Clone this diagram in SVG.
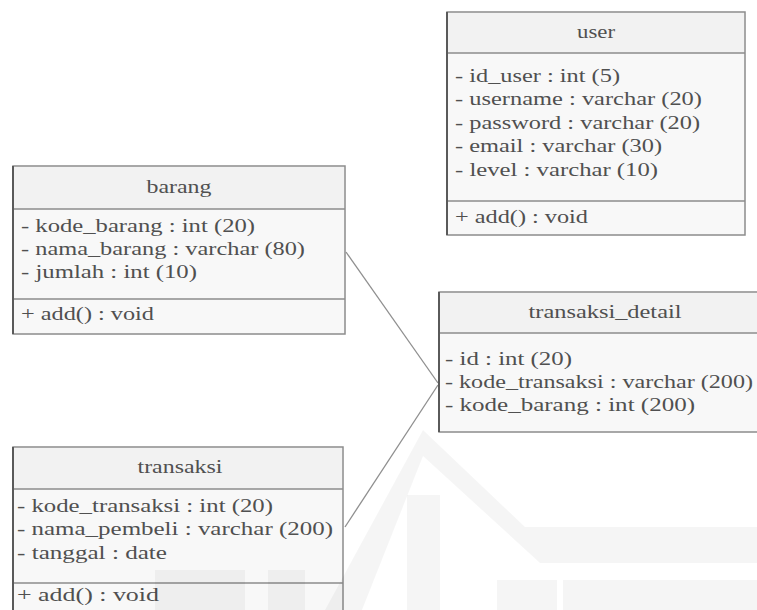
<svg xmlns="http://www.w3.org/2000/svg" width="757" height="610" viewBox="0 0 757 610">
<style>
.box{fill:#f8f8f8;stroke:#8c8c8c;stroke-width:1.5}
.hdr{fill:#f2f2f2}
.div{stroke:#8c8c8c;stroke-width:1.5}
.edge{stroke:#5a5a5a;stroke-width:2}
.t{font-family:"Liberation Serif","Times New Roman",serif;font-size:18px;fill:#505050}
.c{text-anchor:middle}
.conn{stroke:#8f8f8f;stroke-width:1.3;fill:none}
.wm{fill:#000;fill-opacity:0.04}
</style>
<rect width="757" height="610" fill="#ffffff"/>

<g id="connectors">
<line class="conn" x1="346" y1="252" x2="438" y2="383"/>
<line class="conn" x1="345" y1="527" x2="438" y2="385"/>
</g>

<g id="user">
<rect class="box" x="447" y="12" width="298" height="223"/>
<rect class="hdr" x="448" y="13" width="296" height="40"/>
<line class="div" x1="447" y1="53" x2="745" y2="53"/>
<line class="div" x1="447" y1="201" x2="745" y2="201"/>
<line class="edge" x1="447" y1="12" x2="447" y2="235"/>
<text class="t c" x="596" y="38" textLength="38" lengthAdjust="spacingAndGlyphs">user</text>
<text class="t" x="455" y="82" textLength="165" lengthAdjust="spacingAndGlyphs">- id_user : int (5)</text>
<text class="t" x="455" y="105" textLength="247" lengthAdjust="spacingAndGlyphs">- username : varchar (20)</text>
<text class="t" x="455" y="129" textLength="245" lengthAdjust="spacingAndGlyphs">- password : varchar (20)</text>
<text class="t" x="455" y="152" textLength="207" lengthAdjust="spacingAndGlyphs">- email : varchar (30)</text>
<text class="t" x="455" y="176" textLength="203" lengthAdjust="spacingAndGlyphs">- level : varchar (10)</text>
<text class="t" x="455" y="223" textLength="133" lengthAdjust="spacingAndGlyphs">+ add() : void</text>
</g>

<g id="barang">
<rect class="box" x="13" y="166" width="332" height="168"/>
<rect class="hdr" x="14" y="167" width="330" height="42"/>
<line class="div" x1="13" y1="209" x2="345" y2="209"/>
<line class="div" x1="13" y1="299" x2="345" y2="299"/>
<line class="edge" x1="13" y1="166" x2="13" y2="334"/>
<text class="t c" x="179" y="193" textLength="65" lengthAdjust="spacingAndGlyphs">barang</text>
<text class="t" x="21" y="232" textLength="234" lengthAdjust="spacingAndGlyphs">- kode_barang : int (20)</text>
<text class="t" x="21" y="255" textLength="284" lengthAdjust="spacingAndGlyphs">- nama_barang : varchar (80)</text>
<text class="t" x="21" y="278" textLength="176" lengthAdjust="spacingAndGlyphs">- jumlah : int (10)</text>
<text class="t" x="21" y="320" textLength="133" lengthAdjust="spacingAndGlyphs">+ add() : void</text>
</g>

<g id="transaksi">
<rect class="box" x="13" y="447" width="330" height="200"/>
<rect class="hdr" x="14" y="448" width="328" height="41"/>
<line class="div" x1="13" y1="489" x2="343" y2="489"/>
<line class="div" x1="13" y1="583" x2="343" y2="583"/>
<line class="edge" x1="13" y1="447" x2="13" y2="610"/>
<text class="t c" x="180" y="473" textLength="85" lengthAdjust="spacingAndGlyphs">transaksi</text>
<text class="t" x="17" y="512" textLength="256" lengthAdjust="spacingAndGlyphs">- kode_transaksi : int (20)</text>
<text class="t" x="17" y="535" textLength="316" lengthAdjust="spacingAndGlyphs">- nama_pembeli : varchar (200)</text>
<text class="t" x="17" y="559" textLength="150" lengthAdjust="spacingAndGlyphs">- tanggal : date</text>
<text class="t" x="17" y="601" textLength="142" lengthAdjust="spacingAndGlyphs">+ add() : void</text>
</g>

<g id="transaksi_detail">
<rect class="box" x="439" y="292" width="330" height="140"/>
<rect class="hdr" x="440" y="293" width="328" height="40"/>
<line class="div" x1="439" y1="333" x2="769" y2="333"/>
<line class="edge" x1="439" y1="292" x2="439" y2="432"/>
<text class="t c" x="605" y="318" textLength="153" lengthAdjust="spacingAndGlyphs">transaksi_detail</text>
<text class="t" x="445" y="365" textLength="127" lengthAdjust="spacingAndGlyphs">- id : int (20)</text>
<text class="t" x="445" y="388" textLength="308" lengthAdjust="spacingAndGlyphs">- kode_transaksi : varchar (200)</text>
<text class="t" x="445" y="411" textLength="250" lengthAdjust="spacingAndGlyphs">- kode_barang : int (200)</text>
</g>

<g id="watermark">
<polygon class="wm" points="325,610 423,430 525,527 757,527 757,563 540,563 423,456 362,610"/>
<rect class="wm" x="407" y="495" width="33" height="115"/>
<rect class="wm" x="497" y="580" width="60" height="30"/>
<rect class="wm" x="563" y="580" width="194" height="30"/>
<rect class="wm" x="155" y="570" width="90" height="40"/>
<rect class="wm" x="268" y="570" width="37" height="40"/>
</g>
</svg>
